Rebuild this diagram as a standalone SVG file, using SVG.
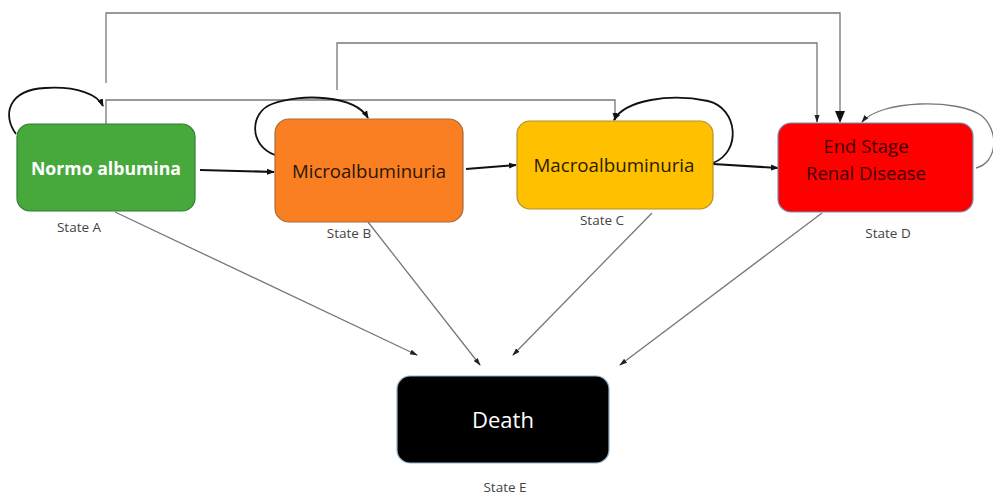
<svg xmlns="http://www.w3.org/2000/svg" width="993" height="495" viewBox="0 0 993 495">
<style>
.lbl{font-family:"Open Sans","Noto Sans",sans-serif;font-size:13.5px;fill:#444;text-anchor:middle}
.nt{font-family:"Open Sans","Noto Sans",sans-serif;text-anchor:middle}
.thin{fill:none;stroke:#777;stroke-width:1.3}
.thick{fill:none;stroke:#111;stroke-width:2.2}
.loop{fill:none;stroke:#111;stroke-width:1.8}
</style>
<defs>
<marker id="ah" markerWidth="8" markerHeight="8" refX="7" refY="4" orient="auto" markerUnits="userSpaceOnUse"><path d="M0,1 L8,4 L0,7 Z" fill="#111"/></marker>
<marker id="ahs" markerWidth="8" markerHeight="8" refX="7" refY="4" orient="auto" markerUnits="userSpaceOnUse"><path d="M0,1.5 L8,4 L0,6.5 Z" fill="#222"/></marker>
<marker id="ahb" markerWidth="12" markerHeight="12" refX="11" refY="6" orient="auto" markerUnits="userSpaceOnUse"><path d="M0,1 L12,6 L0,11 Z" fill="#111"/></marker>
</defs>
<rect width="993" height="495" fill="#fff"/>
<g id="connectors">
<path class="thin" d="M106,83 V13 H840 V122" marker-end="url(#ahb)"/>
<path class="thin" d="M337,90 V43 H817 V122" marker-end="url(#ahs)"/>
<path class="thin" d="M106,124 V100 H615 V120" marker-end="url(#ahs)"/>
<path class="thick" d="M200,170 L274,172" marker-end="url(#ah)"/>
<path class="thick" d="M466,169 L516,165" marker-end="url(#ah)"/>
<path class="thick" d="M713,164 L778,168" marker-end="url(#ah)"/>
<path class="loop" d="M16,134 C2,115 8,90 45,88 C78,86 98,95 103,106" marker-end="url(#ah)"/>
<path class="loop" d="M275,155 C248,145 250,112 272,104 C300,93 355,95 368,118" marker-end="url(#ah)"/>
<path class="loop" d="M713,163 C742,152 738,108 708,101 C670,93 625,100 614,120" marker-end="url(#ah)"/>
<path class="thin" d="M976,168 C997,163 1000,132 982,116 C958,98 880,100 862,122" marker-end="url(#ahs)"/>
<path class="thin" d="M115,212 L417,355" marker-end="url(#ahs)"/>
<path class="thin" d="M368,222 L480,365" marker-end="url(#ahs)"/>
<path class="thin" d="M652,213 L513,355" marker-end="url(#ahs)"/>
<path class="thin" d="M822,213 L620,365" marker-end="url(#ahs)"/>
</g>
<g id="nodeA">
<rect x="17" y="124" width="178" height="87" rx="13" fill="#47A93C" stroke="#2E7D32" stroke-width="1.2"/>
<text class="nt" x="106" y="175" font-size="17" font-weight="bold" fill="#fff" textLength="150" lengthAdjust="spacingAndGlyphs">Normo albumina</text>
<text class="lbl" x="79" y="232">State  A</text>
</g>
<g id="nodeB">
<rect x="275" y="119" width="188" height="103" rx="14" fill="#F97F22" stroke="#A86A3A" stroke-width="1.2"/>
<text class="nt" x="369" y="178" font-size="18" fill="#2a1606" textLength="154" lengthAdjust="spacingAndGlyphs">Microalbuminuria</text>
<text class="lbl" x="349" y="238">State B</text>
</g>
<g id="nodeC">
<rect x="517" y="121" width="196" height="88" rx="13" fill="#FFC000" stroke="#B8902A" stroke-width="1.2"/>
<text class="nt" x="614" y="172" font-size="18" fill="#2a1c00" textLength="161" lengthAdjust="spacingAndGlyphs">Macroalbuminuria</text>
<text class="lbl" x="602" y="225">State C</text>
</g>
<g id="nodeD">
<rect x="778" y="123" width="195" height="89" rx="13" fill="#FF0000" stroke="#7A8FB0" stroke-width="1.2"/>
<text class="nt" x="866" y="153" font-size="18" fill="#3a0000" textLength="85" lengthAdjust="spacingAndGlyphs">End Stage</text>
<text class="nt" x="866" y="180" font-size="18" fill="#3a0000" textLength="120" lengthAdjust="spacingAndGlyphs">Renal Disease</text>
<text class="lbl" x="888" y="238">State D</text>
</g>
<g id="nodeE">
<rect x="397" y="376" width="212" height="87" rx="13" fill="#000" stroke="#8FB3D0" stroke-width="1.2"/>
<text class="nt" x="503" y="428" font-size="22" fill="#fff" textLength="62" lengthAdjust="spacingAndGlyphs">Death</text>
<text class="lbl" x="505" y="492">State E</text>
</g>
</svg>
